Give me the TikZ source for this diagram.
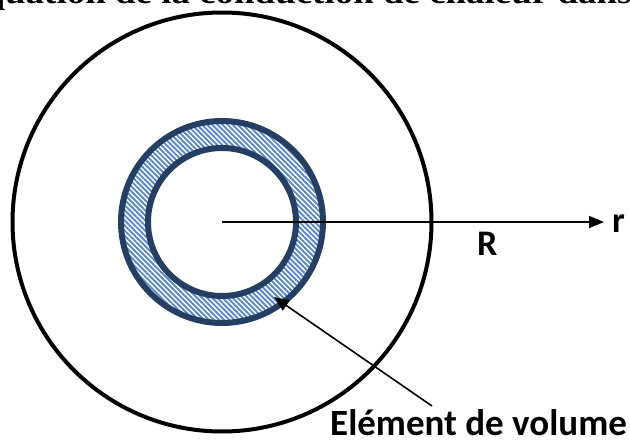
\documentclass[tikz,border=0pt]{standalone}
\usepackage{fontspec}
\setmainfont{Carlito}
\newfontfamily\serifbf[FakeStretch=1.12]{Liberation Serif}
\usetikzlibrary{patterns.meta,arrows.meta}
\definecolor{ringblue}{HTML}{243F62}
\definecolor{hatchblue}{HTML}{5A88C6}
\tikzset{
  lbl/.style={font=\fontsize{36}{40}\selectfont\bfseries, inner sep=0pt},
  axisline/.style={line width=1.6pt, -{Triangle[length=15pt,width=12pt]}},
  ringline/.style={draw=ringblue, line width=6pt},
}
\begin{document}
\begin{tikzpicture}[x=1pt,y=-1pt]
\useasboundingbox (0,0) rectangle (630,447);
% cut-off title line
\node[anchor=base west, inner sep=0pt, font=\serifbf\fontsize{33}{36}\selectfont\bfseries] (title) at (5,3) {\llap{Eq}uation de la conduction de chaleur dans};
\coordinate (c) at (222,222);
% outer cylinder
\draw[line width=4pt] (c) circle[radius=209.5];
% hatched ring (volume element)
\path[pattern={Lines[angle=-45,distance=3.6pt,line width=1.9pt]}, pattern color=hatchblue, even odd rule]
  (c) circle[radius=101] (c) circle[radius=74];
\draw[ringline] (c) circle[radius=101];
\draw[ringline] (c) circle[radius=74];
% radial axis
\coordinate (rend) at (604,222);
\draw[axisline] (c) -- (rend);
\node[lbl, anchor=base west] (r) at (612,232) {r};
\node[lbl, anchor=base west] (R) at (477,255) {R};
% label and pointer
\node[lbl, anchor=base west, font=\fontsize{37}{40}\selectfont\bfseries] (elem) at (330,435) {Elément de volume};
\coordinate (tip) at (274,297);
\coordinate (tail) at (432,406);
\draw[line width=1.6pt, -{Triangle[length=15pt,width=12pt]}] (tail) -- (tip);
\end{tikzpicture}
\end{document}
